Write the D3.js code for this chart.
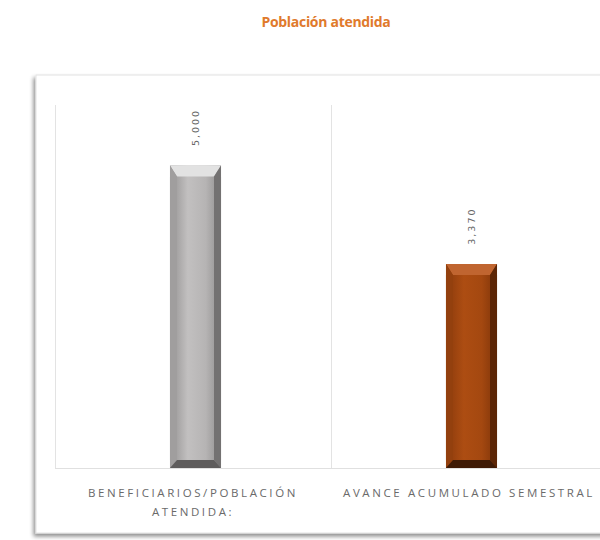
<!DOCTYPE html>
<html><head><meta charset="utf-8">
<script src="https://cdn.jsdelivr.net/npm/d3@7/dist/d3.min.js"></script>
<style>body{margin:0;background:#fff;}svg{display:block;}</style>
</head><body>
<svg id="c" width="600" height="540"></svg>
<script>
const categories = ["BENEFICIARIOS/POBLACIÓN\nATENDIDA:", "AVANCE ACUMULADO SEMESTRAL"];
const values = [5000, 3370];
const valueLabels = ["5,000", "3,370"];
const title = "Población atendida";

const svg = d3.select("#c");
const defs = svg.append("defs");

const f = defs.append("filter").attr("id","sh").attr("x","-5%").attr("y","-5%").attr("width","115%").attr("height","115%");
f.append("feGaussianBlur").attr("in","SourceAlpha").attr("stdDeviation",2);
f.append("feOffset").attr("dx",-2).attr("dy",3).attr("result","o");
f.append("feComponentTransfer").append("feFuncA").attr("type","linear").attr("slope",0.45);
const m = f.append("feMerge"); m.append("feMergeNode"); m.append("feMergeNode").attr("in","SourceGraphic");

svg.append("rect").attr("x",36).attr("y",75).attr("width",600).attr("height",458)
  .attr("fill","#fff").attr("stroke","#e2e2e2").attr("filter","url(#sh)");

svg.append("text").attr("x",326).attr("y",27).attr("text-anchor","middle")
  .attr("font-family","'Open Sans',sans-serif").attr("font-weight","bold")
  .attr("font-size",14).attr("letter-spacing",-0.3).attr("fill","#e07a2c").text(title);

const x = d3.scaleBand().domain(categories).range([55, 607]).padding(0);
const y = d3.scaleLinear().domain([0, 6000]).range([468, 105]);

const g = svg.append("g");
g.append("line").attr("x1",55).attr("x2",607).attr("y1",y(0)+0.5).attr("y2",y(0)+0.5).attr("stroke","#e0e0e0");
categories.forEach(c=>{
  g.append("line").attr("x1",x(c)+0.5).attr("x2",x(c)+0.5).attr("y1",y(6000)).attr("y2",y(0)).attr("stroke","#e3e3e3");
});

const palettes = [
  {face:["#939191","#c2c0c0","#b6b4b4","#8f8d8d"], top:"#e2e2e2", left:"#a09e9e", right:"#737171", bottom:"#5e5c5c"},
  {face:["#8a3a0c","#ad4d12","#a44810","#7e3409"], top:"#c06530", left:"#93400e", right:"#5c2606", bottom:"#3e1a05"}
];
palettes.forEach((p,i)=>{
  const lg = defs.append("linearGradient").attr("id","face"+i).attr("x1","0").attr("x2","1").attr("y1","0").attr("y2","0");
  p.face.forEach((col,k)=>lg.append("stop").attr("offset",[0,0.35,0.7,1][k]).attr("stop-color",col));
});

const bw = x.bandwidth()*0.185;
const bev = 7, bevT = 11, bevB = 8;
values.forEach((v,i)=>{
  const c = categories[i];
  const cx = x(c) + x.bandwidth()/2 + 2.5;
  const x0 = cx - bw/2, x1 = cx + bw/2;
  const y0 = y(v), y1 = y(0);
  const p = palettes[i];
  const bg = g.append("g");
  bg.append("rect").attr("x",x0).attr("y",y0).attr("width",bw).attr("height",y1-y0).attr("fill","url(#face"+i+")");
  const poly = (pts,fill)=>bg.append("polygon").attr("points",pts.map(d=>d.join(",")).join(" ")).attr("fill",fill);
  poly([[x0,y0],[x1,y0],[x1-bev,y0+bevT],[x0+bev,y0+bevT]], p.top);
  poly([[x0,y0],[x0+bev,y0+bevT],[x0+bev,y1-bevB],[x0,y1]], p.left);
  poly([[x1,y0],[x1,y1],[x1-bev,y1-bevB],[x1-bev,y0+bevT]], p.right);
  poly([[x0,y1],[x0+bev,y1-bevB],[x1-bev,y1-bevB],[x1,y1]], p.bottom);
  g.append("text").attr("transform",`translate(${cx+3},${y0-38}) rotate(-90)`)
    .attr("text-anchor","middle").attr("font-family","'DejaVu Sans',sans-serif").attr("font-size",9.5)
    .attr("letter-spacing",2).attr("fill","#666").text(valueLabels[i]);
});

categories.forEach(c=>{
  const lines = c.split("\n");
  const cx = x(c)+x.bandwidth()/2;
  const t = g.append("text").attr("x", cx).attr("y",497)
    .attr("text-anchor","middle").attr("font-family","'Open Sans',sans-serif")
    .attr("font-size",11.5).attr("letter-spacing",2.6).attr("fill","#6a6a6a");
  lines.forEach((l,k)=>t.append("tspan").attr("x", cx).attr("dy", k?19:0).text(l));
});
</script>
</body></html>
